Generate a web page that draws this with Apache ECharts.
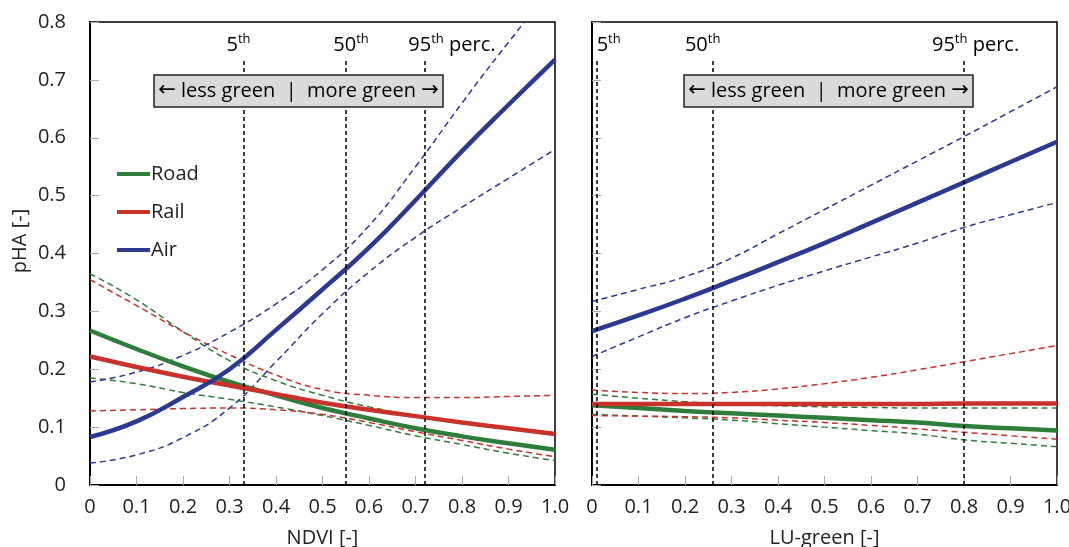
<!DOCTYPE html>
<html>
<head>
<meta charset="utf-8">
<title>pHA vs greenness</title>
<script src="https://cdn.jsdelivr.net/npm/echarts@6/dist/echarts.min.js"></script>
<style>
  html, body { margin: 0; padding: 0; background: #fff; }
  #chart { width: 1069px; height: 547px; }
</style>
</head>
<body>
<div id="chart"></div>
<script>
// x positions shared by both panels
const xs = [0, 0.1, 0.2, 0.3, 0.4, 0.5, 0.6, 0.7, 0.8, 0.9, 1.0];

// left panel: NDVI
const ndviRoad = [0.267, 0.235, 0.205, 0.178, 0.155, 0.133, 0.115, 0.098, 0.084, 0.072, 0.061];
const ndviRoadHi = [0.365, 0.32, 0.265, 0.215, 0.18, 0.155, 0.135, 0.12, 0.108, 0.098, 0.09];
const ndviRoadLo = [0.185, 0.175, 0.16, 0.148, 0.135, 0.12, 0.103, 0.085, 0.07, 0.055, 0.042];
const ndviRail = [0.222, 0.204, 0.187, 0.172, 0.157, 0.142, 0.13, 0.119, 0.108, 0.098, 0.088];
const ndviRailHi = [0.355, 0.31, 0.265, 0.225, 0.19, 0.165, 0.155, 0.151, 0.151, 0.153, 0.155];
const ndviRailLo = [0.128, 0.13, 0.132, 0.133, 0.13, 0.122, 0.108, 0.092, 0.077, 0.062, 0.049];
const ndviAir = [0.083, 0.11, 0.152, 0.2, 0.268, 0.338, 0.41, 0.492, 0.577, 0.657, 0.735];
const ndviAirHi = [0.178, 0.195, 0.224, 0.264, 0.313, 0.372, 0.448, 0.55, 0.66, 0.765, 0.865];
const ndviAirLo = [0.038, 0.052, 0.082, 0.133, 0.213, 0.296, 0.368, 0.428, 0.48, 0.53, 0.58];

// right panel: LU-green
const luRoad = [0.138, 0.133, 0.128, 0.124, 0.12, 0.116, 0.112, 0.108, 0.102, 0.098, 0.094];
const luRoadHi = [0.157, 0.15, 0.144, 0.139, 0.137, 0.135, 0.134, 0.133, 0.133, 0.133, 0.133];
const luRoadLo = [0.122, 0.119, 0.116, 0.112, 0.106, 0.1, 0.094, 0.088, 0.078, 0.072, 0.066];
const luRail = [0.14, 0.14, 0.14, 0.14, 0.14, 0.14, 0.14, 0.14, 0.141, 0.141, 0.141];
const luRailHi = [0.164, 0.16, 0.158, 0.16, 0.166, 0.175, 0.186, 0.199, 0.213, 0.227, 0.241];
const luRailLo = [0.12, 0.119, 0.118, 0.116, 0.112, 0.108, 0.103, 0.097, 0.091, 0.085, 0.079];
const luAir = [0.266, 0.293, 0.322, 0.353, 0.385, 0.418, 0.453, 0.488, 0.523, 0.558, 0.593];
const luAirHi = [0.317, 0.338, 0.36, 0.392, 0.434, 0.476, 0.518, 0.56, 0.602, 0.645, 0.688];
const luAirLo = [0.222, 0.256, 0.289, 0.318, 0.345, 0.37, 0.394, 0.418, 0.445, 0.467, 0.488];

// percentile markers
const ndviPerc = [0.33, 0.549, 0.719];
const luPerc = [0.01, 0.26, 0.80];
const percLabels = ['5', '50', '95'];

const GREEN = '#2e7d3a';
const RED = '#c8322a';
const BLUE = '#2b3990';
const FONT = '"Open Sans", "Noto Sans", sans-serif';

const pair = (y) => xs.map((x, i) => [x, y[i]]);

function solid(name, data, color, gi) {
  return {
    name: name, type: 'line', xAxisIndex: gi, yAxisIndex: gi,
    data: pair(data), smooth: true, showSymbol: false, z: 4,
    lineStyle: { color: color, width: 4.5 }, itemStyle: { color: color }
  };
}
function dashed(name, data, color, gi) {
  return {
    name: name, type: 'line', xAxisIndex: gi, yAxisIndex: gi,
    data: pair(data), smooth: true, showSymbol: false, z: 3,
    lineStyle: { color: color, width: 1.5, type: [6, 4] }
  };
}
// vertical percentile lines, from the axis up to just under the labels
function percLines(vals, gi) {
  return {
    name: 'perc' + gi, type: 'line', xAxisIndex: gi, yAxisIndex: gi, data: [],
    markLine: {
      silent: true, symbol: 'none', label: { show: false },
      lineStyle: { color: '#000', width: 1.5, type: [4, 3] },
      data: vals.map(v => [{ coord: [v, 0] }, { coord: [v, 0.733] }])
    }
  };
}

function fmt(v) {
  if (v === 0) return '0';
  return v.toFixed(1);
}

const axisLabelStyle = { color: '#222', fontSize: 20, fontFamily: FONT };

function xAxis(gi, name) {
  return {
    type: 'value', gridIndex: gi, min: 0, max: 1, interval: 0.1,
    name: name, nameLocation: 'middle', nameGap: 43,
    nameTextStyle: { color: '#222', fontSize: 20, fontFamily: FONT },
    axisLine: { lineStyle: { color: '#000', width: 2 } },
    axisTick: { inside: true, length: 9, lineStyle: { color: '#aaa', width: 1 } },
    axisLabel: Object.assign({ margin: 12, formatter: fmt }, axisLabelStyle),
    splitLine: { show: false }
  };
}
function yAxis(gi, showLabel) {
  return {
    type: 'value', gridIndex: gi, min: 0, max: 0.8, interval: 0.1,
    axisLine: { show: true, lineStyle: { color: '#000', width: 2 } },
    axisTick: { show: true, inside: true, length: 9, lineStyle: { color: '#aaa', width: 1 } },
    axisLabel: Object.assign({ show: showLabel, margin: 24, formatter: fmt }, axisLabelStyle),
    splitLine: { show: false }
  };
}

const chart = echarts.init(document.getElementById('chart'), null, { renderer: 'canvas' });

const option = {
  animation: false,
  backgroundColor: '#fff',
  textStyle: { fontFamily: FONT },
  grid: [
    { left: 90, right: 514, top: 22, bottom: 62, show: true, borderColor: '#000', borderWidth: 1.5, outerBoundsMode: 'none', containLabel: false },
    { left: 592, right: 12, top: 22, bottom: 62, show: true, borderColor: '#000', borderWidth: 1.5, outerBoundsMode: 'none', containLabel: false }
  ],
  xAxis: [xAxis(0, 'NDVI [-]'), xAxis(1, 'LU-green [-]')],
  yAxis: [yAxis(0, true), yAxis(1, false)],
  legend: {
    data: ['Road', 'Rail', 'Air'],
    orient: 'vertical', left: 112, top: 159, itemGap: 18,
    icon: 'rect', itemWidth: 33, itemHeight: 4,
    textStyle: { color: '#222', fontSize: 20, fontFamily: FONT, padding: [0, 0, 0, -4] }
  },
  series: [
    percLines(ndviPerc, 0),
    percLines(luPerc, 1),
    dashed('Road hi', ndviRoadHi, GREEN, 0),
    dashed('Road lo', ndviRoadLo, GREEN, 0),
    dashed('Rail hi', ndviRailHi, RED, 0),
    dashed('Rail lo', ndviRailLo, RED, 0),
    dashed('Air hi', ndviAirHi, BLUE, 0),
    dashed('Air lo', ndviAirLo, BLUE, 0),
    solid('Road', ndviRoad, GREEN, 0),
    solid('Rail', ndviRail, RED, 0),
    solid('Air', ndviAir, BLUE, 0),
    dashed('Road hi', luRoadHi, GREEN, 1),
    dashed('Road lo', luRoadLo, GREEN, 1),
    dashed('Rail hi', luRailHi, RED, 1),
    dashed('Rail lo', luRailLo, RED, 1),
    dashed('Air hi', luAirHi, BLUE, 1),
    dashed('Air lo', luAirLo, BLUE, 1),
    solid('Road', luRoad, GREEN, 1),
    solid('Rail', luRail, RED, 1),
    solid('Air', luAir, BLUE, 1)
  ]
};
chart.setOption(option);

// annotations: percentile labels, the "less green | more green" boxes, y title
const rich = {
  n: { fontSize: 20, fontFamily: FONT, color: '#222', lineHeight: 24 },
  s: { fontSize: 13, fontFamily: FONT, color: '#222', lineHeight: 24, verticalAlign: 'top' }
};
const boxRich = {
  a: { fontSize: 21, fontFamily: '"DejaVu Sans", sans-serif', color: '#222' },
  t: { fontSize: 20, fontFamily: FONT, color: '#222' }
};
const labelShift = [[-17, -12, -16], [0, -28, -32]];
const graphics = [];
[ndviPerc, luPerc].forEach((vals, gi) => {
  vals.forEach((v, k) => {
    const p = chart.convertToPixel({ gridIndex: gi }, [v, 0.8]);
    let txt = '{n|' + percLabels[k] + '}{s|th}';
    if (k === 2) txt += '{n| perc.}';
    graphics.push({
      type: 'text', x: p[0] + labelShift[gi][k], y: 33, z: 10,
      style: { text: txt, rich: rich, textVerticalAlign: 'top' }
    });
  });
});
const boxes = [[154, 443], [684, 973]];
boxes.forEach(b => {
  graphics.push({
    type: 'rect', z: 10,
    shape: { x: b[0], y: 75, width: b[1] - b[0], height: 32 },
    style: { fill: '#d9dbda', stroke: '#222', lineWidth: 1.5 }
  });
  graphics.push({
    type: 'text', z: 11, x: (b[0] + b[1]) / 2, y: 91,
    style: {
      text: '{a|\u2190}{t| less green  |  more green }{a|\u2192}',
      rich: boxRich,
      align: 'center', verticalAlign: 'middle'
    }
  });
});
graphics.push({
  type: 'text', x: 20, y: 241, rotation: Math.PI / 2, z: 10,
  style: {
    text: 'pHA [-]', fontSize: 20, fontFamily: FONT, fill: '#222',
    align: 'center', verticalAlign: 'middle'
  }
});
chart.setOption({ graphic: graphics });
</script>
</body>
</html>
